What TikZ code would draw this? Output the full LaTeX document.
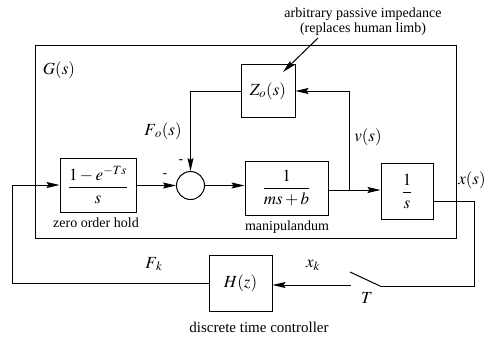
\documentclass[tikz,border=0pt]{standalone}
\usepackage{mathptmx}
\usepackage{fontspec}
\setmainfont{Liberation Serif}
\usetikzlibrary{arrows.meta,calc}
\begin{document}
\begin{tikzpicture}[x=1pt,y=-1pt,
  font=\fontsize{14}{15}\selectfont,
  blk/.style={draw, line width=1pt, inner sep=0pt},
  ln/.style={line width=1pt},
  arr/.style={ln, -{Stealth[length=13pt,width=6pt,inset=2pt]}},
  lbl/.style={inner sep=0pt},
  mth/.style={font=\fontsize{17}{19}\selectfont}]
\useasboundingbox (0,0) rectangle (487,337);
% G(s) frame
\node[blk, minimum width=421pt, minimum height=192pt] (gbox) at (245.5,142) {};
% blocks
\node[blk, mth, minimum width=54pt, minimum height=53pt] (zo) at (268,91) {$Z_o(s)$};
\node[draw, circle, line width=1pt, minimum size=28pt, inner sep=0pt] (sum) at (190.5,185.5) {};
\node[blk, mth, minimum width=76pt, minimum height=54pt] (zoh) at (98,185) {$\displaystyle\frac{1-e^{-Ts}}{s}$};
\node[blk, mth, minimum width=83pt, minimum height=54pt] (manip) at (286.5,188) {$\displaystyle\frac{1}{ms+b}$};
\node[blk, mth, minimum width=52pt, minimum height=56pt] (integ) at (407,191) {$\displaystyle\frac{1}{s}$};
\node[blk, mth, minimum width=63pt, minimum height=56pt] (hz) at (240.5,283) {$H(z)$};
% coordinates
\coordinate (j) at (349,190);
\coordinate (c3) at (474,286);
\coordinate (swr) at (380,286);
\coordinate (swt) at (350,272);
\coordinate (swl) at (351,285);
\coordinate (lft) at (12,185);
\coordinate (ns) at (318,38);
\coordinate (tip) at (283,72);
% connectors
\draw[arr] (zoh.east |- sum.west) -- (sum.west);
\draw[arr] (sum.east) -- (sum.east -| manip.west);
\draw[arr] (manip.east |- j) -- (integ.west |- j);
\draw[arr] (j) |- (zo.east);
\draw[arr] (zo.west) -| (sum.north);
\draw[ln] ([yshift=-10pt]integ.east) -| (c3) -- (swr);
\draw[ln] (swr) -- (swt);
\draw[arr] (swl) -- (hz.east |- swl);
\draw[arr] (hz.west) -| (lft) -- (zoh.west);
% labels
\node[lbl, mth] at (59,70) {$G(s)$};
\node[lbl, mth] at (163,131) {$F_{\mkern3mu o}(s)$};
\node[lbl] at (181,162) {-};
\node[lbl] at (165,176) {-};
\node[lbl, mth] at (368,137) {$v(s)$};
\node[lbl, mth] at (472,180) {$x(s)$};
\node[lbl] at (96,223) {zero order hold};
\node[lbl] at (287,227) {manipulandum};
\node[lbl, mth] at (154,264) {$F_{\mkern3mu k}$};
\node[lbl, mth] at (313,265) {$x_k$};
\node[lbl, mth] at (367,298) {$T$};
\node[lbl, font=\fontsize{15}{16}\selectfont] at (259,327) {discrete time controller};
\node[lbl, align=center] (note) at (363,22) {arbitrary passive impedance\\(replaces human limb)};
\draw[arr] (ns) -- (tip);
\end{tikzpicture}
\end{document}
